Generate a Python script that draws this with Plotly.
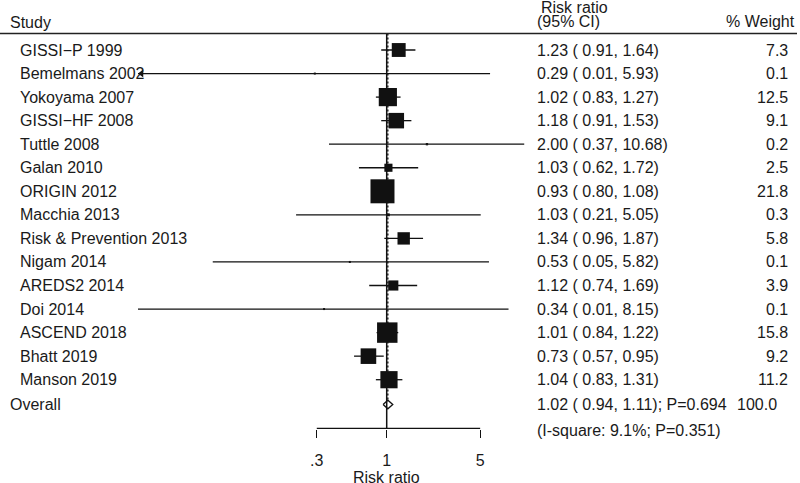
import numpy as np
import plotly.graph_objects as go

# ---------------- data ----------------
studies = ["GISSI\u2212P 1999", "Bemelmans 2002", "Yokoyama 2007", "GISSI\u2212HF 2008",
           "Tuttle 2008", "Galan 2010", "ORIGIN 2012", "Macchia 2013",
           "Risk & Prevention 2013", "Nigam 2014", "AREDS2 2014", "Doi 2014",
           "ASCEND 2018", "Bhatt 2019", "Manson 2019"]
rr = [1.23, 0.29, 1.02, 1.18, 2.00, 1.03, 0.93, 1.03, 1.34, 0.53, 1.12, 0.34, 1.01, 0.73, 1.04]
ci_low = [0.91, 0.01, 0.83, 0.91, 0.37, 0.62, 0.80, 0.21, 0.96, 0.05, 0.74, 0.01, 0.84, 0.57, 0.83]
ci_high = [1.64, 5.93, 1.27, 1.53, 10.68, 1.72, 1.08, 5.05, 1.87, 5.82, 1.69, 8.15, 1.22, 0.95, 1.31]
weights = [7.3, 0.1, 12.5, 9.1, 0.2, 2.5, 21.8, 0.3, 5.8, 0.1, 3.9, 0.1, 15.8, 9.2, 11.2]
arrow_left_studies = ["Bemelmans 2002"]

overall_rr = 1.02
overall_low = 0.94
overall_high = 1.11
overall_p = 0.694
overall_weight = 100.0
i_square = 9.1
het_p = 0.351

tick_vals = [0.3, 1, 5]
tick_text = [".3", "1", "5"]

# ---------------- layout constants ----------------
W, H = 800, 483
PX_ROW0 = 50.0
PX_ROW = 23.55
PLOT_BOTTOM = 429.0
X_LEFT_PX, X_RIGHT_PX = 138.0, 530.0
PX_ONE = 386.7
PX_DECADE = 133.7
XLOG0 = (X_LEFT_PX - PX_ONE) / PX_DECADE
XLOG1 = (X_RIGHT_PX - PX_ONE) / PX_DECADE


def row_of(px):
    return (px - PX_ROW0) / PX_ROW


def paper_y(px):
    return (PLOT_BOTTOM - px) / PLOT_BOTTOM


Y_TOP = row_of(0)
Y_BOT = row_of(PLOT_BOTTOM)
Y_HEADER = row_of(33.5)
Y_AXIS = row_of(428.4)
OVERALL_PX = 404.5
Y_OVERALL = row_of(OVERALL_PX)
DIAMOND_H = 4.3 / PX_ROW

FONT = "Liberation Sans, Arial, Helvetica, sans-serif"
TXT = "#1a1a1a"
FS = 16

n = len(studies)
rows = list(range(n))

fig = go.Figure()

# CI lines
xs, ys = [], []
for i in rows:
    xs += [ci_low[i], ci_high[i], None]
    ys += [i, i, None]
fig.add_trace(go.Scatter(x=xs, y=ys, mode="lines", line=dict(color="#111", width=1.3),
                         hoverinfo="skip", showlegend=False))

# null line (x=1)
fig.add_trace(go.Scatter(x=[1, 1], y=[Y_HEADER, Y_AXIS], mode="lines",
                         line=dict(color="#111", width=1.5), hoverinfo="skip", showlegend=False))
# overall dashed line
fig.add_trace(go.Scatter(x=[overall_rr, overall_rr], y=[Y_HEADER, Y_OVERALL - DIAMOND_H],
                         mode="lines", line=dict(color="#111", width=1.3, dash="2px,2px"),
                         hoverinfo="skip", showlegend=False))

# weighted boxes
sizes = [max(2.0, 5.14 * np.sqrt(w)) for w in weights]
fig.add_trace(go.Scatter(x=rr, y=rows, mode="markers",
                         marker=dict(symbol="square", size=sizes, color="#111", opacity=1,
                                     line=dict(width=0)),
                         hoverinfo="skip", showlegend=False))

# left arrows for truncated CIs
arr_y = [studies.index(s) for s in arrow_left_studies]
fig.add_trace(go.Scatter(x=[10 ** (XLOG0 + 3.5 / PX_DECADE)] * len(arr_y), y=arr_y,
                         mode="markers", cliponaxis=False,
                         marker=dict(symbol="triangle-left", size=7, color="#111", opacity=1,
                                     line=dict(width=0)),
                         hoverinfo="skip", showlegend=False))

# overall diamond
fig.add_trace(go.Scatter(
    x=[overall_low, overall_rr, overall_high, overall_rr, overall_low],
    y=[Y_OVERALL, Y_OVERALL - DIAMOND_H, Y_OVERALL, Y_OVERALL + DIAMOND_H, Y_OVERALL],
    mode="lines", line=dict(color="#111", width=1.3), hoverinfo="skip", showlegend=False))

# axis bracket line (only between the outer ticks)
fig.add_trace(go.Scatter(x=[tick_vals[0], tick_vals[-1]], y=[Y_AXIS, Y_AXIS], mode="lines",
                         line=dict(color="#111", width=1.3), hoverinfo="skip", showlegend=False))

ann = []


def add_text(text, xpx, ypx, anchor="left"):
    ann.append(dict(text=text, x=xpx / W, xref="paper", y=paper_y(ypx), yref="paper",
                    xanchor=anchor, yanchor="middle", showarrow=False,
                    font=dict(family=FONT, size=FS, color=TXT)))


def row_px(i):
    return PX_ROW0 + PX_ROW * i


add_text("Study", 8, 22)
add_text("Risk ratio", 539, 7.5)
add_text("(95% CI)", 535, 21)
add_text("% Weight", 797, 21, "right")

for i in rows:
    add_text(studies[i], 18, row_px(i))
    add_text(f"{rr[i]:.2f} ( {ci_low[i]:.2f}, {ci_high[i]:.2f})", 535, row_px(i))
    add_text(f"{weights[i]:.1f}", 790, row_px(i), "right")

add_text("Overall", 8, OVERALL_PX)
add_text(f"{overall_rr:.2f} ( {overall_low:.2f}, {overall_high:.2f}); P={overall_p:.3f}", 535, OVERALL_PX)
add_text(f"{overall_weight:.1f}", 779, OVERALL_PX, "right")
add_text(f"(I-square: {i_square:.1f}%; P={het_p:.3f})", 535, 430.5)

# x-axis title centred under the null value
ann.append(dict(text="Risk ratio", x=0, xref="x", y=paper_y(477.5), yref="paper",
                xanchor="center", yanchor="middle", showarrow=False,
                font=dict(family=FONT, size=FS, color=TXT)))

shapes = [dict(type="line", xref="paper", x0=0, x1=797 / W, yref="paper",
               y0=paper_y(33.5), y1=paper_y(33.5), line=dict(color="#222", width=1.3))]

fig.update_layout(
    width=W, height=H,
    margin=dict(l=0, r=0, t=0, b=H - PLOT_BOTTOM, pad=0),
    paper_bgcolor="white", plot_bgcolor="white",
    annotations=ann, shapes=shapes,
    font=dict(family=FONT, size=FS, color=TXT),
    xaxis=dict(type="log", domain=[X_LEFT_PX / W, X_RIGHT_PX / W], range=[XLOG0, XLOG1],
               tickvals=tick_vals, ticktext=tick_text, ticks="outside", ticklen=8,
               tickwidth=1.3, tickcolor="#111", showline=False, showgrid=False,
               zeroline=False, ticklabelstandoff=9,
               tickfont=dict(family=FONT, size=FS, color=TXT)),
    yaxis=dict(range=[Y_BOT, Y_TOP], visible=False, showgrid=False, zeroline=False),
)

fig.write_html("out.html", config={"displayModeBar": False},
               post_script="document.body.style.margin='0';")
